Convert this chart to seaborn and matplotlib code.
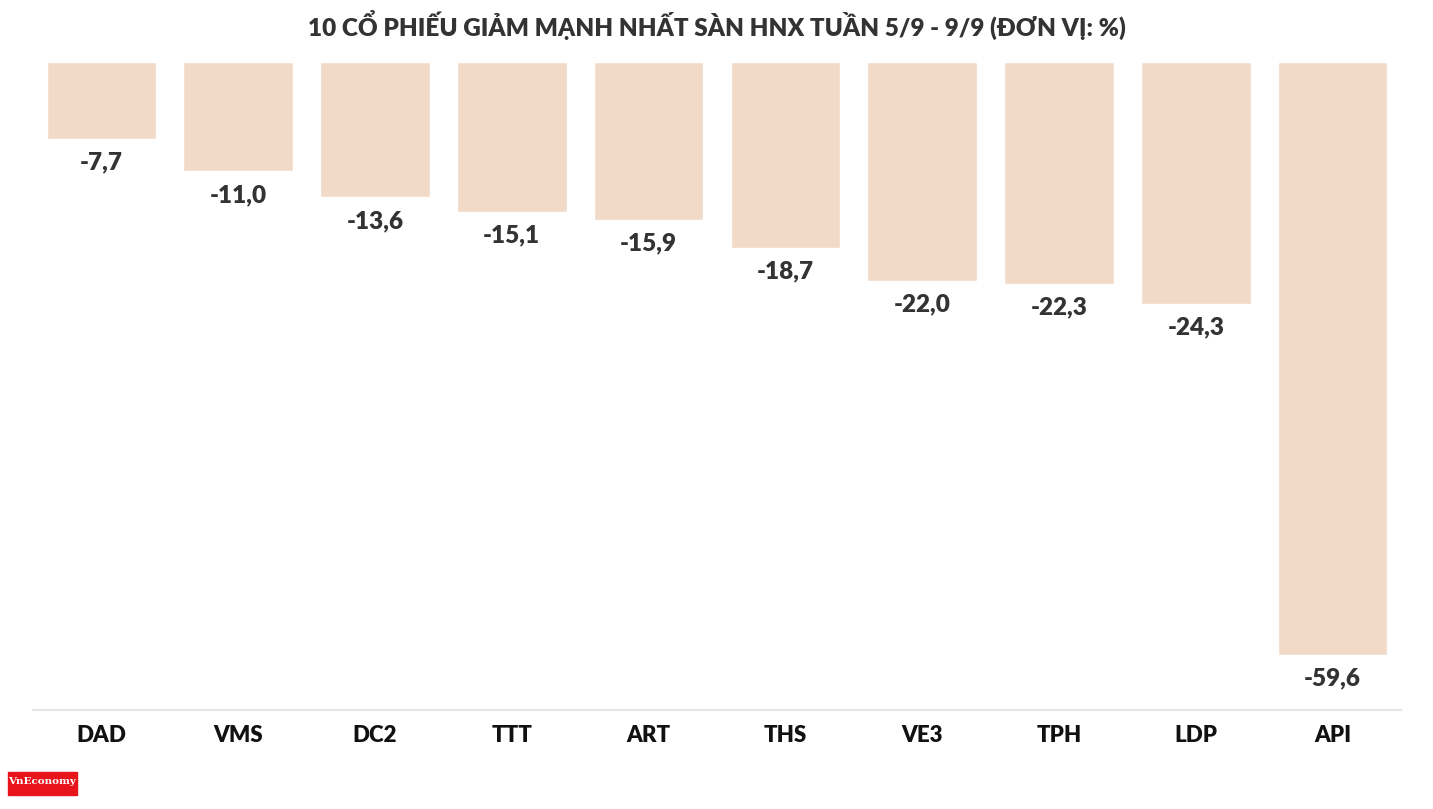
import matplotlib.pyplot as plt
import matplotlib.patches as mpatches
import pandas as pd
import seaborn as sns

# data
tickers = ['DAD', 'VMS', 'DC2', 'TTT', 'ART', 'THS', 'VE3', 'TPH', 'LDP', 'API']
changes = [-7.7, -11.0, -13.6, -15.1, -15.9, -18.7, -22.0, -22.3, -24.3, -59.6]
title = '10 CỔ PHIẾU GIẢM MẠNH NHẤT SÀN HNX TUẦN 5/9 - 9/9 (ĐƠN VỊ: %)'

df = pd.DataFrame({'ticker': tickers, 'change': changes})

sns.set_theme(style='white')
plt.rcParams['font.family'] = ['Lato', 'DejaVu Sans']

fig = plt.figure(figsize=(14.33, 8.09), dpi=100)
ax = fig.add_axes([33 / 1433, 1 - 710 / 809, 1368 / 1433, 648 / 809])

sns.barplot(data=df, x='ticker', y='change', color='#f2dac8',
            saturation=1, width=0.8, ax=ax)

for i, v in enumerate(changes):
    ax.annotate(f'{v:.1f}'.replace('.', ','), (i, v), xytext=(0, -9),
                textcoords='offset points', ha='center', va='top',
                fontsize=17.5, fontweight='heavy', color='#333333')

ax.set_xlim(-0.5, len(tickers) - 0.5)
ax.set_ylim(-65.1, 0)
ax.set_xlabel('')
ax.set_ylabel('')
ax.set_yticks([])
for s in ['top', 'left', 'right']:
    ax.spines[s].set_visible(False)
ax.spines['bottom'].set_color('#e6e6e6')
ax.spines['bottom'].set_linewidth(1.5)
ax.tick_params(axis='x', length=5, width=1, color='#e6e6e6', pad=6,
               labelsize=16, labelcolor='#111111')
for lbl in ax.get_xticklabels():
    lbl.set_fontweight('heavy')

fig.text(0.5, 1 - 25 / 809, title, ha='center', va='center',
         fontsize=17.5, fontweight='heavy', color='#333333')

# small logo in the bottom-left corner
fig.patches.append(mpatches.Rectangle((8 / 1433, 1 - 795 / 809), 69 / 1433, 23 / 809,
                                      transform=fig.transFigure, color='#e8141b'))
fig.text(42 / 1433, 1 - 781 / 809, 'VnEconomy', ha='center', va='center',
         fontsize=7.5, family='DejaVu Serif', fontweight='bold', color='white')

fig.savefig('out.png', dpi=100)
